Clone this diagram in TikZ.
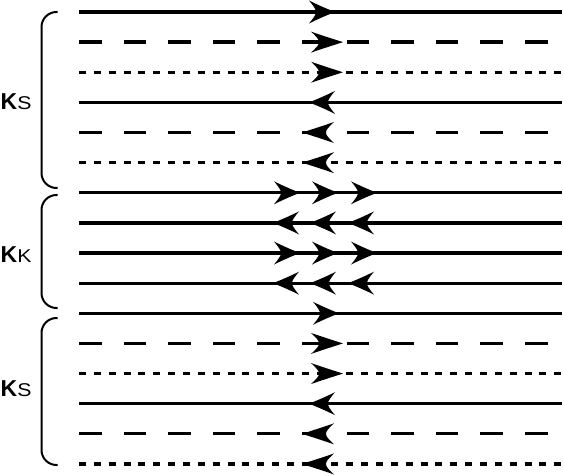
\documentclass[tikz,border=0pt]{standalone}
\usepackage{graphicx}
\usepackage{fontspec}
\setmainfont{Liberation Sans}
\newcommand{\bigK}{\fontsize{23}{27}\selectfont\bfseries K}
\newcommand{\subL}[1]{\fontsize{18.5}{22}\selectfont\mdseries\scalebox{1.15}[1]{#1}}
\begin{document}
\begin{tikzpicture}[x=1pt,y=-1pt,
  solidline/.style={line width=3.3pt},
  dashline/.style={line width=3.3pt, dash pattern=on 22.5pt off 22.1pt},
  dotline/.style={line width=3.3pt, dash pattern=on 7pt off 7.85pt},
  bracket/.style={line width=2pt, rounded corners=15pt},
  lab/.style={anchor=base west, inner sep=0pt},
  tipS/.pic={\fill (0,0) .. controls (-9,-3.5) and (-18,-7.5) .. (-26,-11.5)
      .. controls (-21,-5.5) and (-19,-2.5) .. (-19,0)
      .. controls (-19,2.5) and (-21,5.5) .. (-26,11.5)
      .. controls (-18,7.5) and (-9,3.5) .. (0,0) -- cycle;},
  tipL/.pic={\fill (0,0) .. controls (-11,-3.5) and (-22,-7) .. (-32,-10.5)
      .. controls (-26,-5) and (-24,-2.5) .. (-24,0)
      .. controls (-24,2.5) and (-26,5) .. (-32,10.5)
      .. controls (-22,7) and (-11,3.5) .. (0,0) -- cycle;}]
\useasboundingbox (0,0) rectangle (563,476);
\fill[white] (0,0) rectangle (563,476);
% row ends
\foreach \i in {1,...,16}{
  \pgfmathsetmacro{\yy}{12+30.13*(\i-1)}
  \coordinate (L\i) at (79,\yy);
  \coordinate (R\i) at (562,\yy);
}
% lines
\foreach \i in {1,4,7,8,9,10,11,14}{ \draw[solidline] (L\i) -- (R\i); }
\foreach \i in {2,5,12,15}{ \draw[dashline] (L\i) -- (R\i); }
\foreach \i in {3,6,13,16}{ \draw[dotline] (L\i) -- (R\i); }
% single arrows, top group
\path (L1 -| 335,0) pic {tipS};
\path (L2 -| 343,0) pic {tipL};
\path (L3 -| 343,0) pic {tipL};
\path (L4 -| 309,0) pic[xscale=-1] {tipS};
\path (L5 -| 302,0) pic[xscale=-1] {tipL};
\path (L6 -| 302,0) pic[xscale=-1] {tipL};
% triple arrows
\foreach \i in {7,9}{
  \foreach \x in {300,338,377}{ \path (L\i -| \x,0) pic {tipS}; }
}
\foreach \i in {8,10}{
  \foreach \x in {273,310,348}{ \path (L\i -| \x,0) pic[xscale=-1] {tipS}; }
}
% single arrows, bottom group
\path (L11 -| 339,0) pic {tipS};
\path (L12 -| 343,0) pic {tipL};
\path (L13 -| 343,0) pic {tipL};
\path (L14 -| 309,0) pic[xscale=-1] {tipS};
\path (L15 -| 302,0) pic[xscale=-1] {tipL};
\path (L16 -| 302,0) pic[xscale=-1] {tipL};
% brackets
\coordinate (b1t) at (57.5,12);  \coordinate (b1b) at (57.5,188);
\coordinate (b2t) at (57.5,195); \coordinate (b2b) at (57.5,308);
\coordinate (b3t) at (57.5,318); \coordinate (b3b) at (57.5,465);
\draw[bracket] (b1t) -- (41.5,12) -- (41.5,188) -- (b1b);
\draw[bracket] (b2t) -- (41.5,195) -- (41.5,308) -- (b2b);
\draw[bracket] (b3t) -- (41.5,318) -- (41.5,465) -- (b3b);
% labels
\node[lab] (ks1) at (0.5,110) {\bigK\subL{S}};
\node[lab] (kk)  at (0.5,263) {\bigK\subL{K}};
\node[lab] (ks2) at (0.5,396) {\bigK\subL{S}};
\end{tikzpicture}
\end{document}
